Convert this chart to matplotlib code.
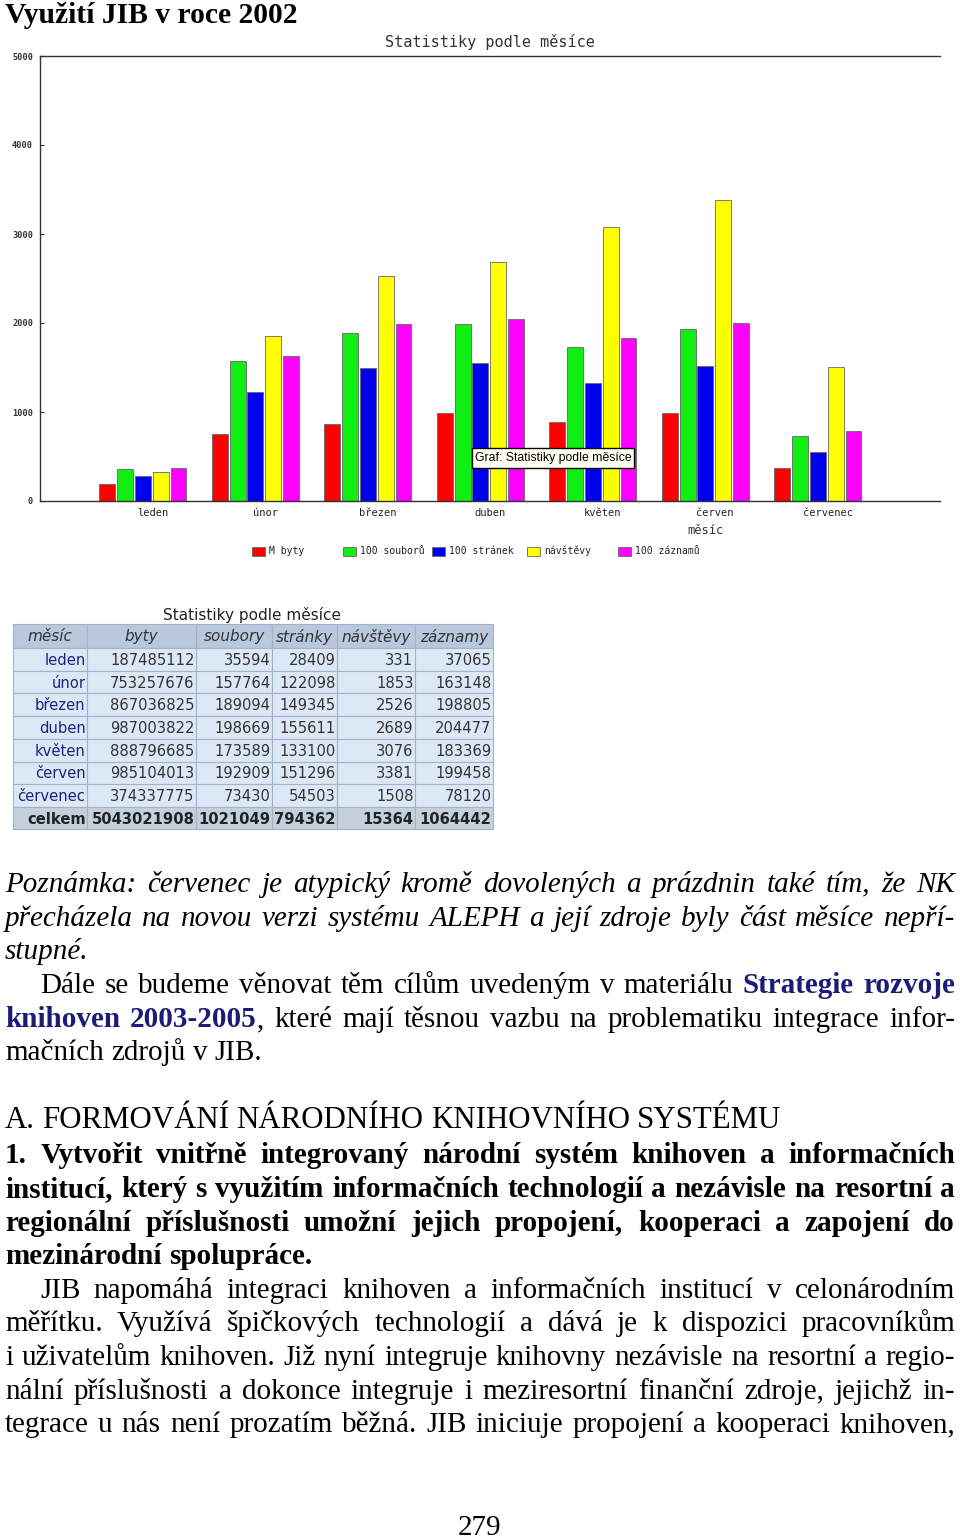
import matplotlib
matplotlib.use('Agg')
import matplotlib.pyplot as plt
from matplotlib.patches import Rectangle

W, H = 960, 1539

# ---------------- data ----------------
months = ['leden', 'únor', 'březen', 'duben', 'květen', 'červen', 'červenec']
byty = [187485112, 753257676, 867036825, 987003822, 888796685, 985104013, 374337775]
soubory = [35594, 157764, 189094, 198669, 173589, 192909, 73430]
stranky = [28409, 122098, 149345, 155611, 133100, 151296, 54503]
navstevy = [331, 1853, 2526, 2689, 3076, 3381, 1508]
zaznamy = [37065, 163148, 198805, 204477, 183369, 199458, 78120]
celkem = ['5043021908', '1021049', '794362', '15364', '1064442']
table_header = ['měsíc', 'byty', 'soubory', 'stránky', 'návštěvy', 'záznamy']

series_labels = ['M byty', '100 souborů', '100 stránek', 'návštěvy', '100 záznamů']
series_values = [
    [v / 1e6 for v in byty],
    [v / 100 for v in soubory],
    [v / 100 for v in stranky],
    list(navstevy),
    [v / 100 for v in zaznamy],
]
series_colors = ['#ff0000', '#11ee11', '#0000f0', '#ffff00', '#ff00ff']
y_ticks = [0, 1000, 2000, 3000, 4000, 5000]

fig = plt.figure(figsize=(W / 100, H / 100), dpi=100)
fig.patch.set_facecolor('white')


def fx(x):
    return x / W


def fy(y):
    return 1 - y / H


MONO = 'DejaVu Sans Mono'

# ---------------- chart ----------------
ax = fig.add_axes([fx(40), fy(501), 900 / W, 445 / H])
ax.set_xlim(0, 8)
ax.set_ylim(0, 5000)
pitch, bw, off = 0.158, 0.142, -0.085
for k, (vals, col) in enumerate(zip(series_values, series_colors)):
    xs = [i + 1 + off + (k - 2) * pitch for i in range(len(months))]
    ax.bar(xs, vals, width=bw, color=col, edgecolor='#666666', linewidth=0.6, zorder=2)
ax.set_xticks(range(1, len(months) + 1))
ax.set_xticklabels(months, fontfamily=MONO, fontsize=7.5, color='#222222')
ax.tick_params(axis='x', length=0, pad=5)
ax.set_yticks(y_ticks)
ax.set_yticklabels([str(t) for t in y_ticks], fontfamily=MONO, fontsize=6.2,
                   fontweight='bold', color='#333333')
ax.tick_params(axis='y', direction='in', length=3, width=0.8, color='#333333', pad=5)
for s in ['left', 'bottom', 'top']:
    ax.spines[s].set_color('#333333')
    ax.spines[s].set_linewidth(1)
ax.spines['right'].set_visible(False)

fig.text(fx(490), fy(42), 'Statistiky podle měsíce', ha='center', va='center',
         fontfamily=MONO, fontsize=11, color='#333333')
fig.text(fx(706), fy(530), 'měsíc', ha='center', va='center',
         fontfamily=MONO, fontsize=8.7, color='#333333')

# legend
leg_sq_x = [252, 343, 432, 527, 618]
for lx, lab, col in zip(leg_sq_x, series_labels, series_colors):
    fig.patches.append(Rectangle((fx(lx), fy(556)), 13 / W, 9 / H, transform=fig.transFigure,
                                 facecolor=col, edgecolor='#666666', linewidth=0.6))
    fig.text(fx(lx + 17), fy(551), lab, ha='left', va='center', fontfamily=MONO,
             fontsize=7, color='#222222')

# tooltip
fig.patches.append(Rectangle((fx(472), fy(468)), 162 / W, 20 / H, transform=fig.transFigure,
                             facecolor='#fffff4', edgecolor='black', linewidth=1, zorder=5))
fig.text(fx(553), fy(458), 'Graf: Statistiky podle měsíce', ha='center', va='center',
         fontfamily='Liberation Sans', fontsize=8.8, color='black', zorder=6)

# ---------------- table ----------------
col_edges = [13, 87, 196, 272, 337, 415, 493]
row_edges = [624, 648, 671, 693, 716, 739, 762, 784, 807, 829]
fig.text(fx(252), fy(615), 'Statistiky podle měsíce', ha='center', va='center',
         fontfamily='DejaVu Sans', fontsize=11, color='#222222')
columns = [byty, soubory, stranky, navstevy, zaznamy]
TFS = 10.6
for r in range(len(row_edges) - 1):
    y0, y1 = row_edges[r], row_edges[r + 1]
    if r == 0:
        bg = '#b9c8dc'
    elif r == len(row_edges) - 2:
        bg = '#c5d0dd'
    else:
        bg = '#dde8f7'
    for c in range(len(col_edges) - 1):
        x0, x1 = col_edges[c], col_edges[c + 1]
        fig.patches.append(Rectangle((fx(x0), fy(y1)), (x1 - x0) / W, (y1 - y0) / H,
                                     transform=fig.transFigure, facecolor=bg,
                                     edgecolor='#a3b3c6', linewidth=0.8))
        yc = fy((y0 + y1) / 2 + 1)
        if r == 0:
            fig.text(fx((x0 + x1) / 2), yc, table_header[c], ha='center', va='center',
                     fontfamily='DejaVu Sans', fontstyle='italic', fontsize=11, color='#333333')
        elif r == len(row_edges) - 2:
            txt = 'celkem' if c == 0 else celkem[c - 1]
            fig.text(fx(x1 - 1.5), yc, txt, ha='right', va='center', fontfamily='DejaVu Sans',
                     fontweight='bold', fontsize=TFS, color='#222222')
        else:
            if c == 0:
                fig.text(fx(x1 - 1.5), yc, months[r - 1], ha='right', va='center',
                         fontfamily='DejaVu Sans', fontsize=TFS, color='#1a2380')
            else:
                fig.text(fx(x1 - 1.5), yc, str(columns[c - 1][r - 1]), ha='right', va='center',
                         fontfamily='DejaVu Sans', fontsize=TFS, color='#333333')

# ---------------- page text ----------------
SERIF = 'Liberation Serif'
FS = 21
STY = {
    'r': dict(fontfamily=SERIF, fontsize=FS, color='black'),
    'h': dict(fontfamily=SERIF, fontsize=22.2, color='black'),
    'i': dict(fontfamily=SERIF, fontsize=FS, color='black', fontstyle='italic'),
    'b': dict(fontfamily=SERIF, fontsize=FS, color='black', fontweight='bold'),
    'bb': dict(fontfamily=SERIF, fontsize=FS, color='#1c1c78', fontweight='bold'),
}
renderer = fig.canvas.get_renderer()


def draw_line(runs, y, x0, justify, x1=955):
    chars = []
    for txt, st in runs:
        for ch in txt:
            chars.append((ch, st))
    words = []
    cur = []
    for ch, st in chars:
        if ch == ' ':
            if cur:
                words.append(cur)
                cur = []
        else:
            if cur and cur[-1][1] == st:
                cur[-1] = (cur[-1][0] + ch, st)
            else:
                cur.append((ch, st))
    if cur:
        words.append(cur)
    placed = []
    total = 0
    for w in words:
        segs = []
        ww = 0
        for txt, st in w:
            t = fig.text(0, fy(y), txt, ha='left', va='baseline', **STY[st])
            wd = t.get_window_extent(renderer).width
            segs.append((t, wd))
            ww += wd
        placed.append((segs, ww))
        total += ww
    if justify and len(placed) > 1:
        gap = (x1 - x0 - total) / (len(placed) - 1)
    else:
        gap = FS * 100 / 72 * 0.25
    x = x0
    for segs, ww in placed:
        for t, wd in segs:
            t.set_x(fx(x))
            x += wd
        x += gap


fig.text(fx(5), fy(23), 'Využití JIB v roce 2002', ha='left', va='baseline',
         fontfamily=SERIF, fontweight='bold', fontsize=21.3, color='black')

lines = [
    (892, 5, True, [('Poznámka: červenec je atypický kromě dovolených a prázdnin také tím, že NK', 'i')]),
    (926, 5, True, [('přecházela na novou verzi systému ALEPH a její zdroje byly část měsíce nepří-', 'i')]),
    (959, 5, False, [('stupné.', 'i')]),
    (993, 40, True, [('Dále se budeme věnovat těm cílům uvedeným v materiálu ', 'r'), ('Strategie rozvoje', 'bb')]),
    (1027, 5, True, [('knihoven 2003-2005', 'bb'), (', které mají těsnou vazbu na problematiku integrace infor-', 'r')]),
    (1060, 5, False, [('mačních zdrojů v JIB.', 'r')]),
    (1128, 5, False, [('A. FORMOVÁNÍ NÁRODNÍHO KNIHOVNÍHO SYSTÉMU', 'h')]),
    (1163, 5, True, [('1. Vytvořit vnitřně integrovaný národní systém knihoven a informačních', 'b')]),
    (1197, 5, True, [('institucí, který s využitím informačních technologií a nezávisle na resortní a', 'b')]),
    (1231, 5, True, [('regionální příslušnosti umožní jejich propojení, kooperaci a zapojení do', 'b')]),
    (1264, 5, False, [('mezinárodní spolupráce.', 'b')]),
    (1298, 40, True, [('JIB napomáhá integraci knihoven a informačních institucí v celonárodním', 'r')]),
    (1331, 5, True, [('měřítku. Využívá špičkových technologií a dává je k dispozici pracovníkům', 'r')]),
    (1365, 5, True, [('i uživatelům knihoven. Již nyní integruje knihovny nezávisle na resortní a regio-', 'r')]),
    (1399, 5, True, [('nální příslušnosti a dokonce integruje i meziresortní finanční zdroje, jejichž in-', 'r')]),
    (1432, 5, True, [('tegrace u nás není prozatím běžná. JIB iniciuje propojení a kooperaci knihoven,', 'r')]),
]
for y, x0, just, runs in lines:
    draw_line(runs, y, x0, just)

fig.text(fx(480), fy(1535), '279', ha='center', va='baseline', fontfamily=SERIF,
         fontsize=FS, color='black')

fig.savefig('out.png', dpi=100)
